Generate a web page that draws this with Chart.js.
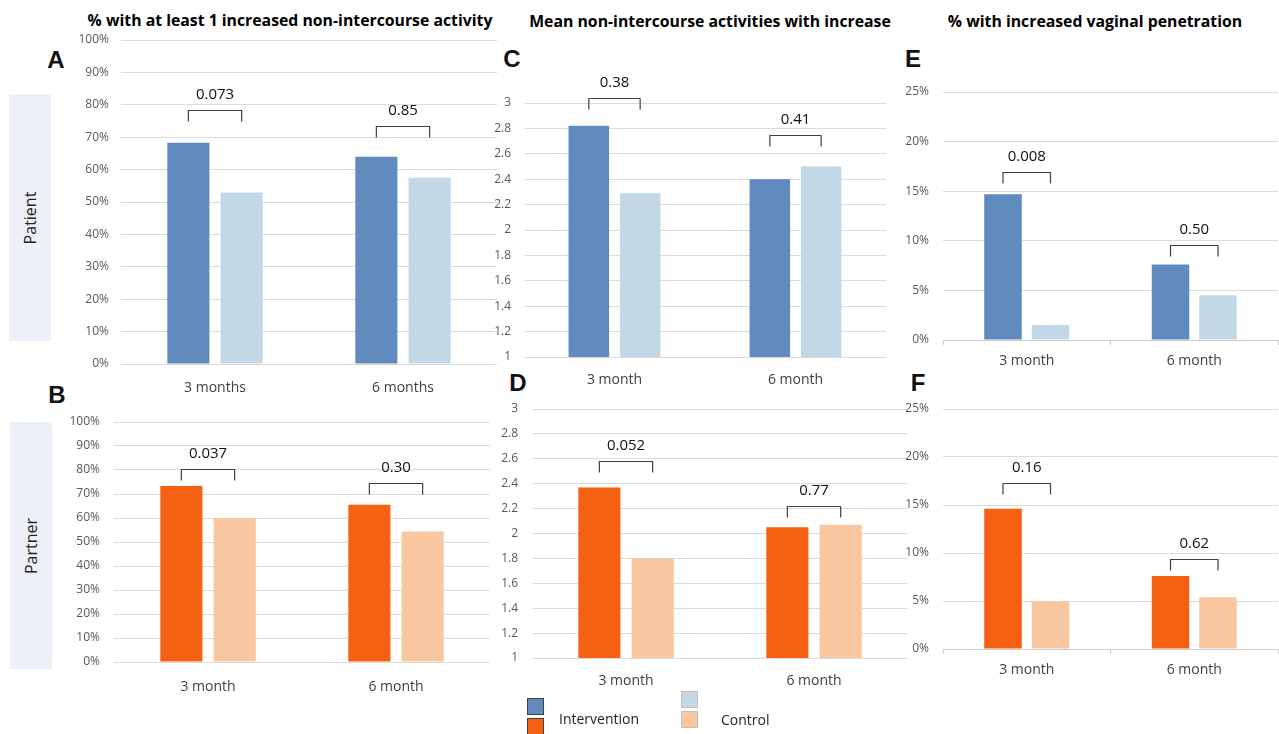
<!DOCTYPE html>
<html>
<head>
<meta charset="utf-8">
<script src="https://cdn.jsdelivr.net/npm/chart.js@4"></script>
<style>
  body { margin: 0; background: #fff; width: 1279px; height: 734px; position: relative; overflow: hidden; font-family: "Open Sans", sans-serif; }
  canvas { position: absolute; }
  .title { position: absolute; font: bold 15.8px "Open Sans", sans-serif; color: #000; white-space: nowrap; transform: translate(-50%, -50%); }
  .letter { position: absolute; font: bold 24px "Liberation Sans", Arial, sans-serif; color: #111; transform: translate(-50%, -50%); }
  .side { position: absolute; background: #edf0f8; }
  .side span { position: absolute; left: 50%; top: 50%; transform: translate(-50%, -50%) rotate(-90deg); font: 16px "Open Sans", sans-serif; color: #222; white-space: nowrap; }
  .sw { position: absolute; width: 15px; height: 15px; box-sizing: content-box; }
  .lg { position: absolute; font: 14px "Open Sans", sans-serif; color: #222; transform: translateY(-50%); white-space: nowrap; }
</style>
</head>
<body>

<div class="title" style="left:290px; top:20px;">% with at least 1 increased non-intercourse activity</div>
<div class="title" style="left:710px; top:21px;">Mean non-intercourse activities with increase</div>
<div class="title" style="left:1095px; top:21px;">% with increased vaginal penetration</div>

<div class="letter" style="left:56px; top:60px;">A</div>
<div class="letter" style="left:57px; top:395px;">B</div>
<div class="letter" style="left:512px; top:59px;">C</div>
<div class="letter" style="left:518px; top:383px;">D</div>
<div class="letter" style="left:913px; top:59px;">E</div>
<div class="letter" style="left:918px; top:383px;">F</div>

<div class="side" style="left:9px; top:94px; width:42px; height:247px;"><span>Patient</span></div>
<div class="side" style="left:10px; top:422px; width:42px; height:247px;"><span>Partner</span></div>

<canvas id="cA"></canvas>
<canvas id="cB"></canvas>
<canvas id="cC"></canvas>
<canvas id="cD"></canvas>
<canvas id="cE"></canvas>
<canvas id="cF"></canvas>

<div id="legend"></div>

<script>
// categories
const catsA = ['3 months', '6 months'];
const cats = ['3 month', '6 month'];

// A: patient, % with at least 1 increased non-intercourse activity
const aIntervention = [68.3, 64.0];
const aControl = [52.9, 57.5];
const aBracket = [78.4, 73.4];
const aP = ['0.073', '0.85'];

// B: partner, same measure
const bIntervention = [73.3, 65.5];
const bControl = [60.0, 54.4];
const bBracket = [80.5, 74.5];
const bP = ['0.037', '0.30'];

// C: patient, mean activities with increase
const cIntervention = [2.82, 2.40];
const cControl = [2.29, 2.50];
const cBracket = [3.04, 2.75];
const cP = ['0.38', '0.41'];

// D: partner, mean activities
const dIntervention = [2.37, 2.05];
const dControl = [1.80, 2.07];
const dBracket = [2.58, 2.22];
const dP = ['0.052', '0.77'];

// E: patient, % increased vaginal penetration
const eIntervention = [14.7, 7.6];
const eControl = [1.5, 4.5];
const eBracket = [16.9, 9.6];
const eP = ['0.008', '0.50'];

// F: partner, % increased vaginal penetration
const fIntervention = [14.6, 7.6];
const fControl = [5.0, 5.4];
const fBracket = [17.3, 9.4];
const fP = ['0.16', '0.62'];

const seriesNames = ['Intervention', 'Control'];
const patientColors = ['#608bbe', '#c2d8e7'];
const partnerColors = ['#f56112', '#f8c69f'];

const GRID = '#dddbd8';

// bracket + p value drawn over each pair of bars
const pBrackets = {
  id: 'pBrackets',
  afterDatasetsDraw(chart, args, opts) {
    const ctx = chart.ctx;
    const y = chart.scales.y;
    const a = chart.getDatasetMeta(0).data;
    const b = chart.getDatasetMeta(1).data;
    opts.levels.forEach((lvl, i) => {
      const x1 = a[i].x, x2 = b[i].x;
      const yt = Math.round(y.getPixelForValue(lvl)) + 0.5;
      ctx.save();
      ctx.strokeStyle = '#3f3f3f';
      ctx.lineWidth = 1.2;
      ctx.lineJoin = 'round';
      ctx.beginPath();
      ctx.moveTo(x1, yt + 11);
      ctx.lineTo(x1, yt);
      ctx.lineTo(x2, yt);
      ctx.lineTo(x2, yt + 11);
      ctx.stroke();
      ctx.fillStyle = '#111';
      ctx.font = '15px "Open Sans"';
      ctx.textAlign = 'center';
      ctx.textBaseline = 'middle';
      ctx.fillText(opts.labels[i], (x1 + x2) / 2, yt - 16);
      ctx.restore();
    });
  }
};

// room above the chart area so the p values are not cut off
const PAD_TOP = 28;
const TOP_OFF = PAD_TOP - 1;

function makePanel(id, box, labels, intv, ctrl, colors, levels, pvals, yAxis, xTicks) {
  const canvas = document.getElementById(id);
  canvas.width = box.w;
  canvas.height = TOP_OFF + (box.bottom - box.top) + box.xh;
  canvas.style.left = box.l + 'px';
  canvas.style.top = (box.top - TOP_OFF) + 'px';

  return new Chart(canvas.getContext('2d'), {
    type: 'bar',
    data: {
      labels: labels,
      datasets: [
        { label: seriesNames[0], data: intv, backgroundColor: colors[0] },
        { label: seriesNames[1], data: ctrl, backgroundColor: colors[1] }
      ]
    },
    options: {
      responsive: false,
      animation: false,
      layout: { padding: { top: PAD_TOP, right: box.padRight || 0, left: 0, bottom: 0 } },
      datasets: { bar: { categoryPercentage: 0.567, barPercentage: 0.79 } },
      scales: {
        x: {
          grid: xTicks
            ? { display: true, drawOnChartArea: false, drawTicks: true, tickLength: 5, color: '#d0cece', offset: true }
            : { display: false },
          border: { display: true, color: xTicks ? '#d0cece' : GRID },
          ticks: { color: '#404040', font: { family: 'Open Sans', size: 14 }, padding: box.xPad },
          afterFit: (s) => { s.height = box.xh; }
        },
        y: {
          min: yAxis.min,
          max: yAxis.max,
          border: { display: false },
          grid: { color: GRID, drawTicks: false },
          ticks: {
            stepSize: yAxis.step,
            color: '#595959',
            font: { family: 'Open Sans', size: 12 },
            padding: box.yPad,
            callback: yAxis.fmt
          },
          afterFit: (s) => { s.width = box.yw; }
        }
      },
      plugins: {
        legend: { display: false },
        tooltip: { enabled: false },
        pBrackets: { levels: levels, labels: pvals }
      }
    },
    plugins: [pBrackets]
  });
}

const pct100 = { min: 0, max: 100, step: 10, fmt: (v) => v + '%' };
const mean3 = { min: 1, max: 3, step: 0.2, fmt: (v) => String(+v.toFixed(1)) };
const pct25 = { min: 0, max: 25, step: 5, fmt: (v) => v + '%' };

makePanel('cA', { l: 50, top: 39, bottom: 364, w: 447, yw: 71, xh: 40, yPad: 12, xPad: 8 },
  catsA, aIntervention, aControl, patientColors, aBracket, aP, pct100, false);
makePanel('cB', { l: 50, top: 421, bottom: 662, w: 440, yw: 64, xh: 40, yPad: 14, xPad: 9 },
  cats, bIntervention, bControl, partnerColors, bBracket, bP, pct100, false);
makePanel('cC', { l: 470, top: 102, bottom: 357, w: 416, yw: 54, xh: 35, yPad: 13, xPad: 7 },
  cats, cIntervention, cControl, patientColors, cBracket, cP, mean3, false);
makePanel('cD', { l: 478, top: 408, bottom: 658, w: 430, yw: 54, xh: 35, yPad: 14, xPad: 7 },
  cats, dIntervention, dControl, partnerColors, dBracket, dP, mean3, false);
makePanel('cE', { l: 890, top: 91, bottom: 340, w: 389, yw: 53, xh: 35, yPad: 14, xPad: 8, padRight: 1 },
  cats, eIntervention, eControl, patientColors, eBracket, eP, pct25, true);
makePanel('cF', { l: 890, top: 408, bottom: 649, w: 389, yw: 53, xh: 35, yPad: 14, xPad: 8, padRight: 1 },
  cats, fIntervention, fControl, partnerColors, fBracket, fP, pct25, true);

// shared legend: each series shows its patient and partner colour
const legend = document.getElementById('legend');
const legendSpots = [
  { x: 527, y: 698, tx: 559, ty: 718, border: '#404040' },
  { x: 681, y: 691, tx: 721, ty: 719, border: '#bfbfbf' }
];
seriesNames.forEach((name, i) => {
  const spot = legendSpots[i];
  [patientColors[i], partnerColors[i]].forEach((col, k) => {
    const sw = document.createElement('div');
    sw.className = 'sw';
    sw.style.left = spot.x + 'px';
    sw.style.top = (spot.y + k * 20) + 'px';
    sw.style.background = col;
    sw.style.border = '1px solid ' + spot.border;
    legend.appendChild(sw);
  });
  const t = document.createElement('div');
  t.className = 'lg';
  t.style.left = spot.tx + 'px';
  t.style.top = spot.ty + 'px';
  t.textContent = name;
  legend.appendChild(t);
});
</script>
</body>
</html>
